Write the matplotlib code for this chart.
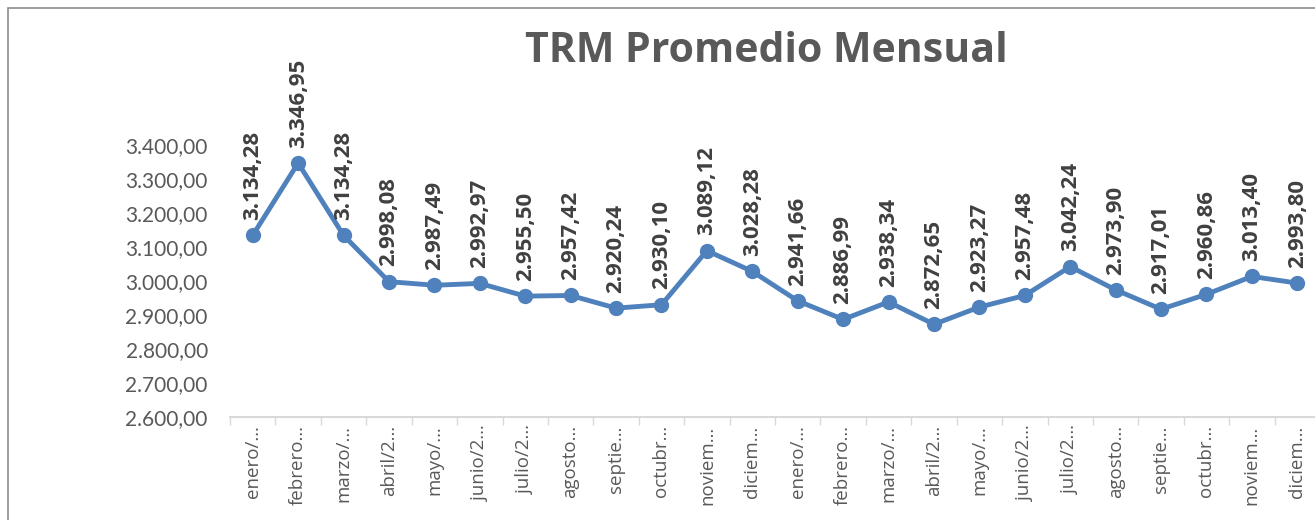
import numpy as np
import matplotlib.pyplot as plt
from matplotlib.patches import Rectangle

# monthly average TRM values (COP per USD)
trm = [3134.28, 3346.95, 3134.28, 2998.08, 2987.49, 2992.97, 2955.50, 2957.42,
       2920.24, 2930.10, 3089.12, 3028.28, 2941.66, 2886.99, 2938.34, 2872.65,
       2923.27, 2957.48, 3042.24, 2973.90, 2917.01, 2960.86, 3013.40, 2993.80]

# tick labels as truncated on the chart
month_labels = ["enero/…", "febrero…", "marzo/…", "abril/2…", "mayo/…", "junio/2…",
                "julio/2…", "agosto…", "septie…", "octubr…", "noviem…", "diciem…"]
tick_labels = month_labels * 2

y_ticks = [2600, 2700, 2800, 2900, 3000, 3100, 3200, 3300, 3400]


def es_fmt(v):
    # 3,134.28 -> 3.134,28
    s = f"{v:,.2f}"
    return s.replace(",", "X").replace(".", ",").replace("X", ".")


W, H = 1315, 520
fig = plt.figure(figsize=(W / 100, H / 100), dpi=100, facecolor="white")

# chart area border (cut off at right and bottom)
fig.patches.append(Rectangle((8 / W, -0.1), 1.2, 1 - 8 / H + 0.1, transform=fig.transFigure,
                             fill=False, edgecolor="#8C8C8C", linewidth=1.2))

ax = fig.add_axes([230 / W, 103 / H, 1090 / W, 272 / H])
x = np.arange(len(trm))
ax.plot(x, trm, color="#4F81BD", linewidth=3.5, marker="o", markersize=10,
        markerfacecolor="#4F81BD", markeredgecolor="#4F81BD", clip_on=False, zorder=3)

for xi, v in zip(x, trm):
    ax.annotate(es_fmt(v), (xi, v), xytext=(0, 11), textcoords="offset points",
                rotation=90, ha="center", va="bottom", fontsize=16, fontweight="bold",
                color="#404040", family="Open Sans", annotation_clip=False)

ax.set_xlim(-0.5, len(trm) - 0.5)
ax.set_ylim(2600, 3400)
ax.set_yticks(y_ticks)
ax.set_yticklabels([es_fmt(v) for v in y_ticks], fontsize=15, color="#595959", family="Lato")
ax.tick_params(axis="y", length=0, pad=16)

ax.set_xticks(x)
ax.set_xticklabels(tick_labels, rotation=90, fontsize=13.5, color="#595959", family="Open Sans")
ax.tick_params(axis="x", length=0, pad=6)
ax.set_xticks(np.arange(-0.5, len(trm), 1), minor=True)
ax.tick_params(axis="x", which="minor", length=6, color="#D9D9D9", width=1)

for side in ["top", "right", "left"]:
    ax.spines[side].set_visible(False)
ax.spines["bottom"].set_color("#D9D9D9")
ax.spines["bottom"].set_linewidth(1.5)

fig.text(766 / W, 1 - 52 / H, "TRM Promedio Mensual", ha="center", va="center",
         fontsize=29.5, fontweight="bold", color="#595959", family="Open Sans")

fig.savefig("out.png", dpi=100)
